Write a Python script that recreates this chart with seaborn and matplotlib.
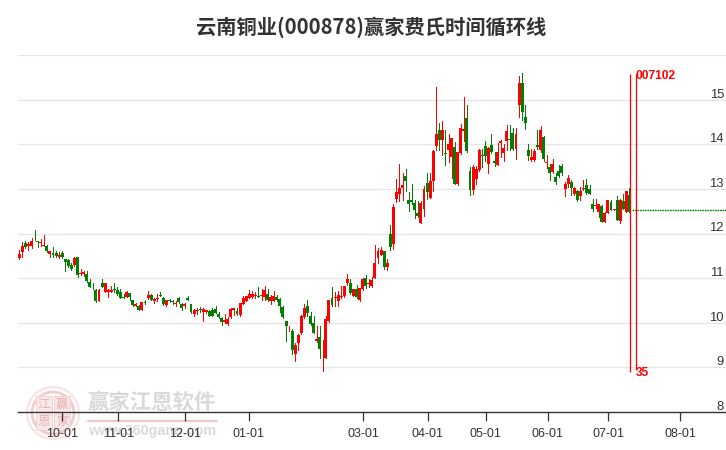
import matplotlib
matplotlib.use("Agg")
import matplotlib.pyplot as plt
from matplotlib.patches import Circle, Rectangle
import numpy as np
import seaborn as sns

# daily candles
opens = [11.45,11.59,11.78,11.72,11.72,11.90,11.82,11.78,11.72,11.73,11.54,11.57,11.57,11.47,11.56,11.43,11.40,11.30,11.30,11.47,
         11.10,11.10,11.09,10.91,10.80,10.74,10.49,10.88,10.70,10.70,10.70,10.76,10.74,10.68,10.58,10.58,10.67,10.51,10.37,10.38,
         10.28,10.47,10.55,10.62,10.49,10.53,10.62,10.56,10.40,10.51,10.49,10.41,10.56,10.43,10.38,10.56,10.42,10.20,10.26,10.30,
         10.25,10.25,10.26,10.29,10.31,10.20,10.11,10.02,9.97,10.13,10.29,10.27,10.18,10.43,10.49,10.55,10.58,10.61,10.61,10.60,
         10.58,10.65,10.48,10.49,10.57,10.54,10.36,10.04,9.85,9.82,9.29,9.54,9.77,10.13,10.38,10.16,9.99,9.60,9.69,9.29,
         9.22,10.03,10.55,10.55,10.48,10.57,10.59,10.88,10.89,10.61,10.76,10.50,10.76,11.00,10.86,10.83,11.00,11.44,11.52,11.60,
         11.24,11.99,11.76,12.78,12.89,13.03,13.29,12.74,12.74,12.68,12.47,12.24,12.54,13.13,12.80,13.17,13.95,14.32,14.09,13.81,
         13.88,13.71,13.94,13.10,13.80,14.29,14.59,13.41,12.98,13.23,13.43,13.77,13.96,13.55,13.99,13.62,13.54,14.02,13.80,14.07,
         14.12,14.26,13.89,14.88,15.38,14.62,13.87,13.64,13.64,13.99,13.86,14.17,13.57,13.49,13.37,13.27,13.41,13.51,12.99,13.10,
         13.16,12.89,12.95,12.83,12.99,13.08,12.99,12.65,12.62,12.49,12.61,12.26,12.45,12.70,12.53,12.75,12.27,12.73,12.49,12.86]
closes = [11.55,11.71,11.70,11.77,11.84,11.89,11.81,11.82,11.75,11.60,11.60,11.51,11.49,11.51,11.47,11.36,11.27,11.20,11.44,11.06,
          11.12,11.13,10.93,10.81,10.79,10.48,10.74,10.81,10.88,10.73,10.74,10.73,10.65,10.55,10.56,10.70,10.57,10.40,10.42,10.28,
          10.46,10.44,10.62,10.52,10.54,10.56,10.60,10.41,10.51,10.48,10.46,10.45,10.46,10.34,10.43,10.51,10.23,10.29,10.29,10.28,
          10.30,10.28,10.16,10.16,10.22,10.13,10.01,10.06,10.09,10.31,10.33,10.20,10.44,10.56,10.59,10.65,10.65,10.62,10.58,10.61,
          10.74,10.50,10.57,10.60,10.51,10.37,10.12,9.92,9.87,9.38,9.51,9.73,10.16,10.34,10.21,9.98,9.78,9.63,9.42,9.30,
          10.08,10.52,10.40,10.58,10.62,10.60,10.82,10.97,10.66,10.76,10.57,10.78,10.97,10.82,10.88,10.96,11.34,11.60,11.63,11.24,
          11.34,11.69,12.60,12.93,13.01,13.09,13.17,12.65,12.71,12.53,12.39,12.68,12.99,12.94,13.17,13.85,14.24,14.10,14.33,13.79,
          14.01,14.13,13.11,13.83,14.37,14.35,13.84,12.98,13.50,13.44,13.88,13.74,13.74,13.92,13.83,13.57,13.83,14.07,13.92,14.30,
          14.10,13.89,14.24,15.37,14.72,14.47,13.73,13.71,13.85,13.93,14.32,13.66,13.61,13.35,13.56,13.15,13.29,13.35,13.11,13.25,
          13.01,13.01,12.74,12.95,13.02,12.90,12.89,12.56,12.64,12.65,12.26,12.47,12.74,12.53,12.55,12.30,12.75,12.56,12.95,12.49]
highs = [11.62,11.81,11.84,11.81,11.89,12.07,11.84,11.88,11.96,11.75,11.61,11.70,11.60,11.59,11.60,11.43,11.43,11.33,11.48,11.48,
         11.21,11.17,11.17,10.98,10.89,10.76,10.76,10.99,10.88,10.76,10.82,10.88,10.79,10.76,10.64,10.72,10.67,10.52,10.45,10.40,
         10.47,10.52,10.72,10.64,10.55,10.64,10.70,10.58,10.52,10.54,10.52,10.48,10.58,10.45,10.45,10.61,10.42,10.31,10.33,10.35,
         10.33,10.28,10.28,10.33,10.37,10.24,10.13,10.19,10.13,10.34,10.34,10.33,10.44,10.59,10.61,10.73,10.71,10.69,10.81,10.76,
         10.83,10.76,10.63,10.72,10.63,10.56,10.38,10.05,9.93,9.87,9.55,9.75,10.17,10.43,10.52,10.25,10.15,9.92,9.93,9.62,
         10.15,10.52,10.79,10.70,10.72,10.83,10.82,11.10,10.99,10.76,10.85,10.78,11.01,11.06,10.97,11.03,11.75,11.67,11.69,11.61,
         11.42,12.20,12.65,13.23,13.56,13.36,13.45,12.93,13.11,12.75,12.73,12.73,13.07,13.36,13.36,13.88,15.28,14.48,14.51,14.33,
         14.24,14.15,14.06,13.83,14.46,15.05,14.87,13.50,13.53,13.52,13.90,13.89,14.08,13.94,14.22,13.83,14.03,14.10,14.01,14.44,
         14.44,14.37,14.37,15.52,15.59,14.87,14.01,13.90,13.90,14.31,14.42,14.18,13.76,13.56,13.68,13.35,13.54,13.56,13.16,13.31,
         13.19,13.05,12.97,13.04,13.20,13.23,13.08,12.77,12.77,12.65,12.64,12.48,12.75,12.74,12.56,12.84,12.77,12.88,12.96,13.02]
lows = [11.43,11.48,11.68,11.63,11.68,11.85,11.69,11.72,11.72,11.59,11.47,11.48,11.48,11.46,11.46,11.15,11.26,11.18,11.28,11.03,
        11.06,11.04,10.91,10.79,10.76,10.46,10.49,10.81,10.70,10.57,10.68,10.68,10.62,10.55,10.55,10.57,10.50,10.38,10.37,10.28,
        10.28,10.43,10.54,10.50,10.45,10.49,10.59,10.40,10.38,10.46,10.41,10.37,10.45,10.29,10.33,10.50,10.22,10.16,10.19,10.25,
        10.05,10.21,10.16,10.16,10.21,10.10,9.94,10.00,9.94,10.10,10.18,10.17,10.16,10.43,10.48,10.55,10.55,10.55,10.57,10.52,
        10.50,10.48,10.43,10.48,10.49,10.23,10.11,9.60,9.81,9.31,9.15,9.38,9.75,10.11,10.16,9.96,9.78,9.57,9.22,8.91,
        9.20,10.02,10.37,10.38,10.38,10.55,10.58,10.84,10.64,10.60,10.55,10.49,10.74,10.78,10.81,10.81,11.00,11.35,11.51,11.20,
        11.18,11.63,11.65,12.71,12.73,12.74,12.96,12.51,12.67,12.35,12.38,12.24,12.40,12.77,12.80,12.96,13.86,13.86,13.77,13.54,
        13.61,13.25,13.10,13.09,13.78,14.08,13.83,12.86,12.89,13.10,13.41,13.50,13.63,13.36,13.80,13.52,13.53,13.71,13.63,13.88,
        13.86,13.86,13.68,14.62,14.55,14.34,13.65,13.62,13.63,13.90,13.83,13.62,13.47,13.20,13.35,13.10,13.26,13.30,12.85,13.05,
        12.87,12.87,12.72,12.76,12.98,12.89,12.89,12.51,12.57,12.38,12.26,12.26,12.45,12.52,12.52,12.30,12.24,12.54,12.49,12.49]

# x axis, y axis
tick_pos = [13.9, 32.3, 54.2, 74.8, 112.1, 133.3, 152.2, 172.3, 192.1, 215.6]
tick_labels = ["10-01", "11-01", "12-01", "01-01", "03-01", "04-01", "05-01", "06-01", "07-01", "08-01"]
grid_levels = [9, 10, 11, 12, 13, 14, 15, 16]
price_labels = [8, 9, 10, 11, 12, 13, 14, 15]

# flat line after the last candle
future_x = [200, 230.5]
future_y = [12.53, 12.53]

# fibonacci time lines
cycle_x = [199.35, 201.3]
cycle_top = [15.58, 15.58]
cycle_bottom = [8.9, 8.93]
top_label = "007102"
bottom_label = "35"

RED = "#ff0000"
GREEN = "#008000"
TEXT = "#333333"

sns.set_style("white")
plt.rcParams["font.family"] = ["Liberation Sans", "Noto Sans CJK SC", "DejaVu Sans"]

fig = plt.figure(figsize=(7.26, 4.5), dpi=100)
ax = fig.add_axes([18 / 726, 38 / 450, 708 / 726, 357 / 450])
ax.patch.set_visible(False)
ax.set_xlim(-0.42, 230.5)
ax.set_ylim(8, 16)

for v in grid_levels:
    ax.axhline(v, color="#e6e6e6", lw=0.9, zorder=1)

idx = np.arange(len(opens))
o = np.array(opens)
c = np.array(closes)
colors = [RED if b > a else GREEN for a, b in zip(o, c)]
ax.vlines(idx, lows, highs, colors=colors, lw=0.72, zorder=2, antialiased=False)
ax.bar(idx, np.maximum(np.abs(c - o), 0.02), bottom=np.minimum(o, c), width=0.96,
       color=colors, linewidth=0, zorder=3, antialiased=False)

sns.lineplot(x=future_x, y=future_y, color=GREEN, lw=1, linestyle=(0, (1.2, 0.6)), ax=ax, zorder=3)

ax.vlines(cycle_x, cycle_bottom, cycle_top, colors=RED, lw=0.9, zorder=4)
ax.annotate(top_label, (cycle_x[1], cycle_top[0]), xytext=(-0.5, -1.5), textcoords="offset points",
            color=RED, fontsize=8.6, fontweight="bold", va="center", ha="left", zorder=5)
ax.annotate(bottom_label, (cycle_x[1], cycle_bottom[1]), xytext=(-0.5, -2), textcoords="offset points",
            color=RED, fontsize=8.6, fontweight="bold", va="center", ha="left", zorder=5)

sns.despine(ax=ax, left=True, right=True, top=True)
ax.spines["bottom"].set_color(TEXT)
ax.spines["bottom"].set_linewidth(1)
ax.set_yticks([])
ax.set_xticks(tick_pos)
ax.set_xticklabels(tick_labels, fontsize=9.0, color=TEXT)
ax.tick_params(axis="x", length=6.5, width=0.9, color=TEXT, pad=5, bottom=True)

for v in price_labels:
    ax.annotate(str(v), (1, v), xycoords=("axes fraction", "data"), xytext=(-1.5, 1.5), textcoords="offset points",
                ha="right", va="baseline", fontsize=9.4, color=TEXT)

fig.text(371 / 726, 1 - 27 / 450, "云南铜业(000878)赢家费氏时间循环线", ha="center", va="center",
         fontsize=14.6, fontweight="bold", color=TEXT, family=["Noto Sans CJK SC", "DejaVu Sans"])

# watermark, in pixel coordinates of the whole figure
wm = fig.add_axes([0, 0, 1, 1], zorder=-1)
wm.set_xlim(0, 726)
wm.set_ylim(450, 0)
wm.axis("off")
wm.add_patch(Circle((53, 413), 26, fill=False, ec="#f8e4e4", lw=1.6))
wm.add_patch(Circle((53, 413), 21, fill=False, ec="#f2cccc", lw=2))
for px, py, ch in [(44, 404, "江"), (62, 404, "赢"), (44, 422, "恩"), (62, 422, "家")]:
    wm.add_patch(Rectangle((px - 8, py - 8), 16, 16, fc="#f9e8e8", ec="#f2cccc", lw=0.6))
    wm.text(px, py, ch, ha="center", va="center", fontsize=9, color="#e8b0b0",
            family=["Noto Sans CJK SC", "DejaVu Sans"])
wm.text(88, 402, "赢家江恩软件", ha="left", va="center", fontsize=15.4, color="#d9d9d9", fontweight="bold",
        family=["Noto Sans CJK SC", "DejaVu Sans"])
wm.plot([88, 217], [420.5, 420.5], color="#eec8c8", lw=1.6)
wm.text(88, 431, "www.360gann.com", ha="left", va="center", fontsize=10.3, color="#dadada", fontweight="bold")

fig.savefig("out.png", dpi=100, facecolor="white")
